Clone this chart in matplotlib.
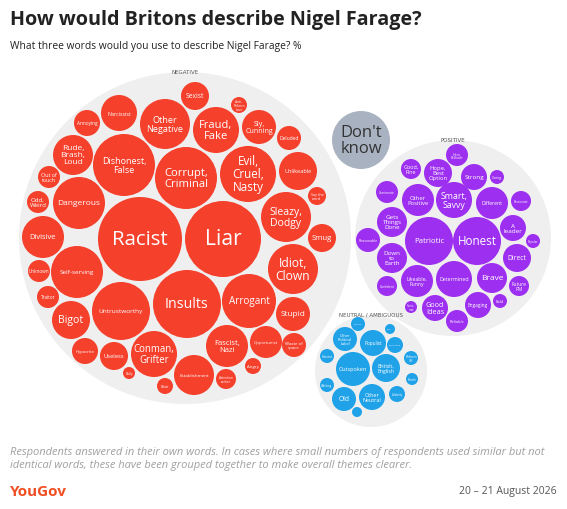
import matplotlib.pyplot as plt
from matplotlib.patches import Circle

# group outlines: centre x, centre y, radius (pixel space)
group_names = ['NEGATIVE', 'POSITIVE', 'NEUTRAL / AMBIGUOUS']
group_x = [185, 453, 371]
group_y = [239, 239, 372]
group_r = [166, 98, 56]

neg_labels = ['Racist', 'Liar', 'Insults', 'Dishonest,\nFalse', 'Corrupt,\nCriminal', 'Evil,\nCruel,\nNasty',
              'Untrustworthy', 'Dangerous', 'Other\nNegative', 'Rude,\nBrash,\nLoud', 'Narcissist', 'Annoying',
              'Out of\ntouch', 'Odd,\nWeird', 'Divisive', 'Self-serving', 'Unknown', 'Traitor', 'Bigot',
              'Hypocrite', 'Useless', 'Conman,\nGrifter', 'Bully', 'Elitist', 'Sexist', 'Anti-\nReform\nLove',
              'Fraud,\nFake', 'Sly,\nCunning', 'Deluded', 'Unlikeable', 'Say the\nword', 'Sleazy,\nDodgy', 'Smug',
              'Idiot,\nClown', 'Arrogant', 'Stupid', 'Fascist,\nNazi', 'Opportunist', 'Waste of\nspace', 'Angry',
              'Attention\nseeker', 'Establishment']
neg_x = [140, 223, 187, 124, 186, 248, 121, 79, 165, 73, 119, 87, 49, 38, 43, 77, 39, 48, 71, 85, 114, 154,
         129, 165, 195, 239, 216, 259, 289, 298, 317, 286, 322, 293, 249, 293, 227, 266, 294, 253, 226, 194]
neg_y = [240, 240, 305, 166, 179, 175, 312, 204, 125, 156, 114, 124, 178, 203, 238, 273, 272, 298, 321, 352,
         357, 355, 374, 387, 97, 106, 131, 128, 139, 172, 197, 218, 239, 270, 302, 315, 347, 343, 346, 367, 380, 376]
neg_r = [42, 38, 34, 31, 31, 28, 29, 26, 25, 20, 18, 13, 11, 11, 21, 26, 11, 11, 19, 13, 14, 23,
         6, 8, 14, 8, 23, 17, 12, 19, 9, 25, 14, 25, 27, 17, 21, 16, 12, 8, 10, 20]

pos_labels = ['Patriotic', 'Honest', 'Smart,\nSavvy', 'Determined', 'Brave', 'Likeable,\nFunny', 'Other\nPositive',
              'Different', 'Gets\nThings\nDone', 'Down\nto\nEarth', 'Direct', 'A\nleader', 'Strong',
              'Hope,\nBest\nOption', 'Good\nIdeas', 'Engaging', 'Future\nPM', 'Good,\nFine', 'Hero,\nBrilliant',
              'Charismatic', 'Passionate', 'Caring', 'Popular', 'Reasonable', 'Confident', 'Reliable', 'Bold',
              'States-\nman']
pos_x = [429, 477, 454, 454, 492, 417, 418, 492, 392, 392, 517, 513, 474, 438, 435, 478, 519, 411, 457,
         387, 521, 497, 533, 368, 387, 457, 500, 411]
pos_y = [242, 242, 201, 280, 279, 282, 201, 204, 223, 259, 259, 229, 178, 174, 309, 306, 287, 170, 156,
         193, 202, 178, 242, 241, 287, 322, 302, 308]
pos_r = [24, 24, 18, 18, 15, 16, 16, 16, 15, 15, 14, 13, 13, 14, 13, 13, 10, 10, 11, 11, 10, 7, 7, 12, 10, 11, 7, 6]

neu_labels = ['Outspoken', 'British,\nEnglish', 'Populist', 'Other\nPolitical\nLabel', 'Old', 'Other\nNeutral',
              'Opinionated', 'Reform\nUK', 'Fresh', 'Celebrity', 'Honest', 'Working', 'Politician', 'Ent...', '']
neu_x = [353, 386, 373, 345, 344, 372, 395, 411, 412, 397, 327, 327, 358, 390, 357]
neu_y = [370, 369, 344, 340, 400, 398, 346, 359, 380, 395, 357, 386, 325, 330, 413]
neu_r = [17, 14, 13, 12, 12, 13, 8, 7, 6, 8, 7, 7, 7, 5, 5]

RED, PURPLE, BLUE = '#f5402c', '#9d2ff0', '#1fa2e8'

fig = plt.figure(figsize=(5.67, 5.1), dpi=100)
ax = fig.add_axes([0, 0, 1, 1])
ax.set_xlim(0, 567)
ax.set_ylim(510, 0)
ax.axis('off')


def fit_size(label, r):
    lines = label.split('\n')
    n = max(len(s) for s in lines) or 1
    return min(2.1 * r / n, 0.9 * r / len(lines), r * 0.4)


for gx, gy, gr, gn in zip(group_x, group_y, group_r, group_names):
    ax.add_patch(Circle((gx, gy), gr, color='#efefef', lw=0))
    ax.text(gx, gy - gr + 2, gn, ha='center', va='bottom', fontsize=4, color='#555555')

for labels, xs, ys, rs, col in [(neg_labels, neg_x, neg_y, neg_r, RED),
                                (pos_labels, pos_x, pos_y, pos_r, PURPLE),
                                (neu_labels, neu_x, neu_y, neu_r, BLUE)]:
    for lab, x, y, r in zip(labels, xs, ys, rs):
        ax.add_patch(Circle((x, y), r, color=col, lw=0))
        ax.text(x, y, lab, ha='center', va='center', color='white', fontsize=fit_size(lab, r),
                linespacing=1.0, family='Open Sans')

ax.add_patch(Circle((361, 141), 29, color='#a9b2c1', lw=0))
ax.text(361, 141, "Don't\nknow", ha='center', va='center', fontsize=12, color='#333333', linespacing=1.0,
        family='Open Sans')

ax.text(10, 20, 'How would Britons describe Nigel Farage?', fontsize=14.2, fontweight='bold', va='center',
        color='#222222', family='Open Sans')
ax.text(10, 47, 'What three words would you use to describe Nigel Farage? %', fontsize=7.4, va='center',
        color='#222222', family='Open Sans')
ax.text(10, 459, 'Respondents answered in their own words. In cases where small numbers of respondents used similar but not\n'
        'identical words, these have been grouped together to make overall themes clearer.',
        fontsize=8.0, style='italic', color='#a0a0a0', va='center', linespacing=1.2, family='Open Sans')
ax.text(10, 492, 'YouGov', fontsize=11, fontweight='bold', color='#f04e23', va='center', family='Open Sans')
ax.text(557, 492, '20 – 21 August 2026', fontsize=7.5, color='#555555', va='center', ha='right',
        family='Open Sans')

fig.savefig('out.png', dpi=100)
